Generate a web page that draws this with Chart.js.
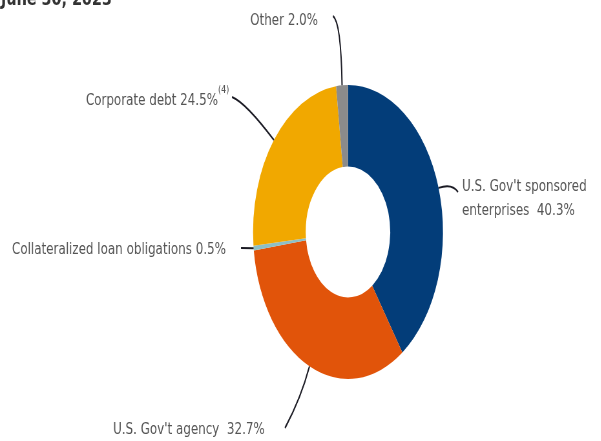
<!DOCTYPE html>
<html>
<head>
<meta charset="utf-8">
<script src="https://cdn.jsdelivr.net/npm/chart.js@4/dist/chart.umd.min.js"></script>
<style>
    html, body { margin: 0; padding: 0; background: #fff; overflow: hidden; }
    #wrap {
        width: 930px;
        height: 441px;
        transform: scaleX(0.646);
        transform-origin: 0 0;
    }
</style>
</head>
<body>
<div id="wrap"><canvas id="carteiraChart" width="930" height="441"></canvas></div>
<script>
// Composição da carteira (%)
const categorias = [
    "U.S. Gov't sponsored enterprises",
    "U.S. Gov't agency",
    'Collateralized loan obligations',
    'Corporate debt',
    'Other'
];
const percentuais = [40.3, 32.7, 0.5, 24.5, 2.0];
const cores = ['#033d79', '#e1540a', '#8dbfc6', '#f1a800', '#8b8b8b'];
const titulo = 'June 30, 2023';

// o canvas é desenhado largo e comprimido na horizontal pelo CSS
const ESCALA = 0.646;
const sx = v => v / ESCALA;
// o texto é menos comprimido que o anel
const ESTICA_TEXTO = 1.23;

// rótulos: linhas de texto, ponta da linha-guia e ponto de controle da curva
const rotulos = [
    { linhas: ["U.S. Gov't sponsored", 'enterprises  40.3%'], x: 462, y: [191, 215], align: 'left',
      fim: [458, 192], ctrl: [452, 183] },
    { linhas: ["U.S. Gov't agency  32.7%"], x: 113, y: [434], align: 'left',
      fim: [285, 428], ctrl: [301, 398] },
    { linhas: ['Collateralized loan obligations 0.5%'], x: 226, y: [254], align: 'right',
      fim: [241, 248], ctrl: [247, 248] },
    { linhas: ['Corporate debt 24.5%'], x: 218, y: [105], align: 'right', nota: '(4)',
      fim: [232, 97], ctrl: [246, 103] },
    { linhas: ['Other 2.0%'], x: 318, y: [25], align: 'right',
      fim: [333, 16], ctrl: [341, 22] }
];

function texto(ctx, t, x, y, estica) {
    ctx.save();
    ctx.translate(x, y);
    ctx.scale(estica, 1);
    ctx.fillText(t, 0, 0);
    ctx.restore();
}

const rotulosPlugin = {
    id: 'rotulos',
    afterDraw(chart) {
        const ctx = chart.ctx;
        const meta = chart.getDatasetMeta(0);
        ctx.save();

        // título (cortado no topo)
        ctx.fillStyle = '#333333';
        ctx.font = 'bold 19px "DejaVu Sans"';
        ctx.textAlign = 'left';
        ctx.textBaseline = 'alphabetic';
        texto(ctx, titulo, sx(1), 5, 1.17);

        meta.data.forEach((arc, i) => {
            const r = rotulos[i];
            const p = arc.getProps(['x', 'y', 'startAngle', 'endAngle', 'outerRadius'], true);
            const meio = (p.startAngle + p.endAngle) / 2;
            const ax = p.x + p.outerRadius * Math.cos(meio);
            const ay = p.y + p.outerRadius * Math.sin(meio);

            // linha-guia
            ctx.strokeStyle = '#1b1b24';
            ctx.lineWidth = 2;
            ctx.beginPath();
            ctx.moveTo(ax, ay);
            ctx.quadraticCurveTo(sx(r.ctrl[0]), r.ctrl[1], sx(r.fim[0]), r.fim[1]);
            ctx.stroke();

            // texto
            ctx.fillStyle = '#555555';
            ctx.font = '15px "DejaVu Sans"';
            ctx.textAlign = r.align;
            r.linhas.forEach((t, j) => texto(ctx, t, sx(r.x), r.y[j], ESTICA_TEXTO));

            if (r.nota) {
                ctx.font = '10px "DejaVu Sans"';
                ctx.textAlign = 'left';
                texto(ctx, r.nota, sx(r.x), r.y[0] - 12, ESTICA_TEXTO);
            }
        });
        ctx.restore();
    }
};

document.addEventListener('DOMContentLoaded', function() {
    const ctx = document.getElementById('carteiraChart');
    if (!ctx) {
        console.error('Elemento carteiraChart não encontrado');
        return;
    }
    // centro em x = 348/0.646, y = 232, raio 147
    const esquerda = sx(348) - 147;
    new Chart(ctx.getContext('2d'), {
        type: 'doughnut',
        data: {
            labels: categorias,
            datasets: [{
                data: percentuais,
                backgroundColor: cores,
                borderWidth: 0
            }]
        },
        options: {
            responsive: false,
            animation: false,
            cutout: '44.5%',
            layout: {
                padding: { left: esquerda, right: 930 - esquerda - 294, top: 85, bottom: 62 }
            },
            plugins: {
                legend: { display: false },
                tooltip: { enabled: false }
            }
        },
        plugins: [rotulosPlugin]
    });
});
</script>
</body>
</html>
